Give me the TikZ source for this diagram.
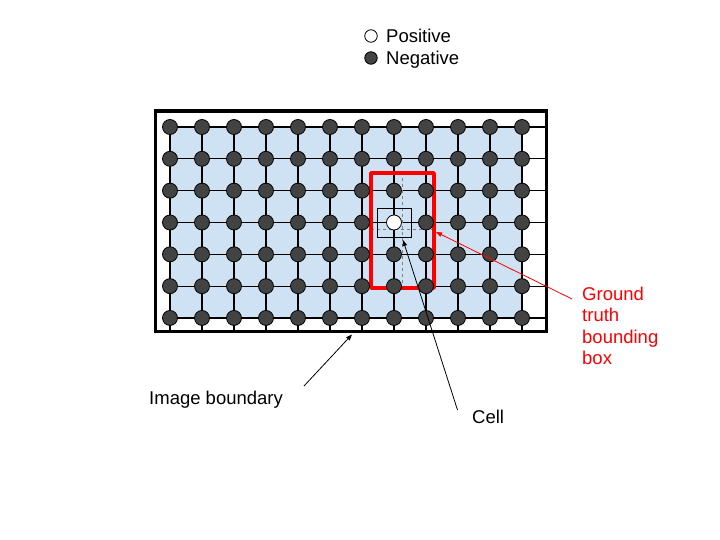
\documentclass[tikz,border=0pt]{standalone}
\usepackage{fontspec}
\setmainfont{Liberation Sans}
\usetikzlibrary{arrows.meta}
\definecolor{dotgray}{HTML}{434343}
\definecolor{cellblue}{HTML}{CFE2F3}
\definecolor{gtred}{HTML}{FF0000}
\begin{document}
\begin{tikzpicture}[x=1pt,y=-1pt,
  lbl/.style={font=\fontsize{18.5}{21.5}\selectfont, inner sep=0pt, anchor=base west},
  dot/.style={circle, draw=black, line width=0.8pt, fill=dotgray, minimum size=15pt, inner sep=0pt},
  legdot/.style={circle, draw=black, line width=0.8pt, minimum size=12.5pt, inner sep=0pt},
  gridline/.style={draw=black, line width=1.1pt},
  guide/.style={draw=gray, line width=0.8pt, dash pattern=on 3pt off 3pt},
  arr/.style={line width=0.8pt, -{Triangle[length=6pt,width=4.5pt]}},
]
\useasboundingbox (0,0) rectangle (720,540);
% blue cell region
\fill[cellblue] (170,127) rectangle (522,318);
% grid lines
\foreach \j in {0,...,6} \draw[gridline] (170,{127+31.83*\j}) -- (546.5,{127+31.83*\j});
\foreach \i in {0,...,11} \draw[gridline] ({170+32*\i},127) -- ({170+32*\i},331.5);
% dashed guides
\draw[guide] (402.5,172) -- (402.5,288);
\draw[guide] (371,229.5) -- (434,229.5);
% ground truth box
\draw[gtred, line width=3.6pt, line join=round] (371,173) rectangle (434,288);
% cell square
\draw[black, line width=0.9pt] (377,208) rectangle (411.5,237.5);
% dots
\foreach \i in {0,...,11} \foreach \j in {0,...,6} {
  \ifnum\i=7 \ifnum\j=3 \def\dc{white}\else\def\dc{dotgray}\fi\else\def\dc{dotgray}\fi
  \node[dot, fill=\dc] (d-\i-\j) at ({170+32*\i},{127+31.83*\j}) {};
}
% image boundary
\draw[black, line width=3.4pt] (155.5,111) rectangle (546.5,331.5);
% legend
\node[legdot, fill=white] (posdot) at (371,36) {};
\node[lbl] (postxt) at (386,42.5) {Positive};
\node[legdot, fill=dotgray] (negdot) at (371,58) {};
\node[lbl] (negtxt) at (386,64.5) {Negative};
% labels
\node[lbl] (imglbl) at (149,404) {Image boundary};
\node[lbl] (celllbl) at (472,423) {Cell};
\node[font=\fontsize{18.5}{21.5}\selectfont, inner sep=0pt, anchor=north west, align=left, text=gtred] (gtlbl) at (582,286.5) {Ground\\truth\\bounding\\box};
% arrow targets / tails
\coordinate (imgtip) at (352,334.5);
\coordinate (imgtail) at (304,386);
\coordinate (celltip) at (403,240);
\coordinate (celltail) at (457.5,410);
\coordinate (gttip) at (436,232);
\coordinate (gttail) at (572,299);
\draw[arr] (imgtail) -- (imgtip);
\draw[arr] (celltail) -- (celltip);
\draw[arr, gtred] (gttail) -- (gttip);
\end{tikzpicture}
\end{document}
